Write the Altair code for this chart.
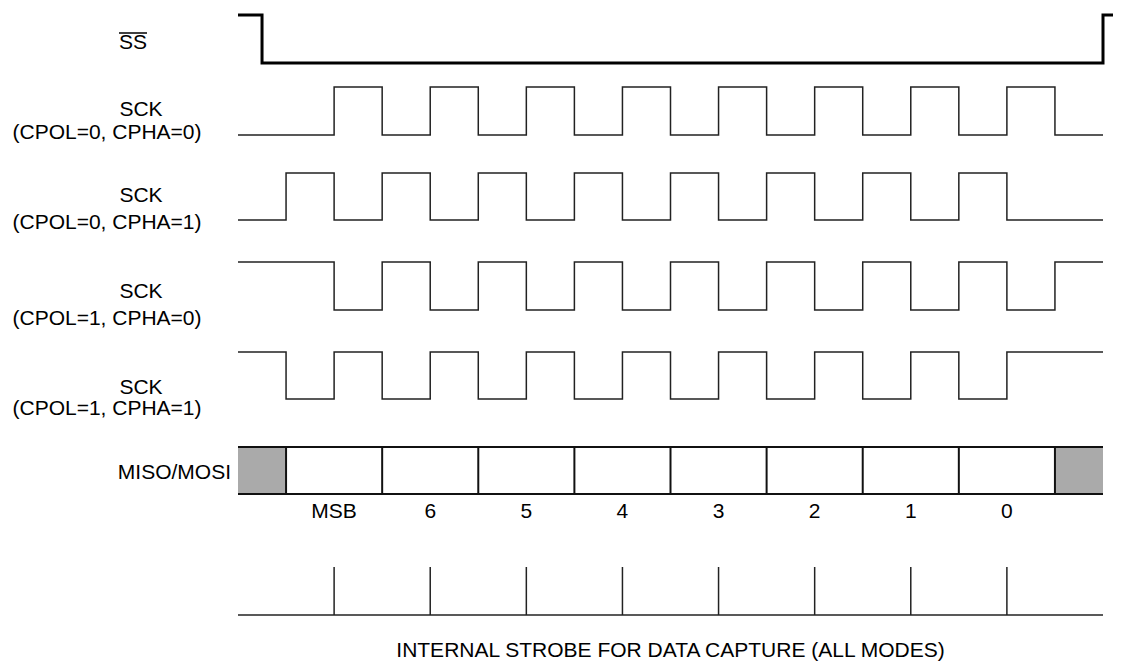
import altair as alt
import pandas as pd

# ---------------- data ----------------
# time is measured in SCK half-periods; the frame spans 18 of them
slots = list(range(18))
sck_cpol0_cpha0 = [0, 0, 1, 0, 1, 0, 1, 0, 1, 0, 1, 0, 1, 0, 1, 0, 1, 0]
sck_cpol0_cpha1 = [0, 1, 0, 1, 0, 1, 0, 1, 0, 1, 0, 1, 0, 1, 0, 1, 0, 0]
sck_cpol1_cpha0 = [1, 1, 0, 1, 0, 1, 0, 1, 0, 1, 0, 1, 0, 1, 0, 1, 0, 1]
sck_cpol1_cpha1 = [1, 0, 1, 0, 1, 0, 1, 0, 1, 0, 1, 0, 1, 0, 1, 0, 1, 1]
ss_times = [0, 0.5, 18, 18.3]
ss_levels = [1, 0, 1, 1]

bit_labels = ["MSB", "6", "5", "4", "3", "2", "1", "0"]
bit_starts = [1, 3, 5, 7, 9, 11, 13, 15]
idle_starts = [0, 17]
strobe_times = [2, 4, 6, 8, 10, 12, 14, 16]
caption = "INTERNAL STROBE FOR DATA CAPTURE (ALL MODES)"

# ---------------- layout ----------------
W, H = 1105, 656
K = 865 / 18.0           # px per half-period
X0 = 238 - 8             # pixel of t=0 inside the plot
D0 = -X0 / K
D1 = D0 + W / K

def yy(img_y):
    return img_y - 8

rows = {
    "SS": (yy(63), 48),
    "SCK00": (yy(135), 48),
    "SCK01": (yy(220), 47),
    "SCK10": (yy(310), 48),
    "SCK11": (yy(399), 47),
}

def wave(name, times, levels):
    low, amp = rows[name]
    return pd.DataFrame({"sig": name, "t": times,
                         "y": [low - lv * amp for lv in levels]})

def clock(name, levels):
    return wave(name, slots + [18], levels + [levels[-1]])

ss_df = wave("SS", ss_times, ss_levels)
sck_df = pd.concat([
    clock("SCK00", sck_cpol0_cpha0),
    clock("SCK01", sck_cpol0_cpha1),
    clock("SCK10", sck_cpol1_cpha0),
    clock("SCK11", sck_cpol1_cpha1),
])

xs = alt.Scale(domain=[D0, D1], nice=False, zero=False)
ys = alt.Scale(domain=[H, 0], nice=False, zero=False)
X = lambda f: alt.X(f, type="quantitative", scale=xs, axis=None)
Y = lambda f: alt.Y(f, type="quantitative", scale=ys, axis=None)

FONT = "Liberation Sans"
FS = 21

ss_line = alt.Chart(ss_df).mark_line(interpolate="step-after", color="#000",
                                     strokeWidth=3).encode(x=X("t"), y=Y("y"), detail="sig:N")
sck_line = alt.Chart(sck_df).mark_line(interpolate="step-after", color="#222",
                                       strokeWidth=1.5).encode(x=X("t"), y=Y("y"), detail="sig:N")

# MISO/MOSI bus
bus_top, bus_bot = yy(447), yy(494)
idle_df = pd.DataFrame({"t": idle_starts, "t2": [s + 1 for s in idle_starts],
                        "y": bus_top, "y2": bus_bot})
idle = alt.Chart(idle_df).mark_rect(color="#aaaaaa").encode(
    x=X("t"), x2="t2", y=Y("y"), y2="y2")
bus_h_df = pd.DataFrame({"t": [0, 0], "t2": [18, 18], "y": [bus_top, bus_bot]})
bus_h = alt.Chart(bus_h_df).mark_rule(color="#111", strokeWidth=2).encode(
    x=X("t"), x2="t2", y=Y("y"))
bus_v_df = pd.DataFrame({"t": bit_starts + [17], "y": bus_top, "y2": bus_bot})
bus_v = alt.Chart(bus_v_df).mark_rule(color="#111", strokeWidth=2).encode(
    x=X("t"), y=Y("y"), y2="y2")

bits_df = pd.DataFrame({"t": [s + 1 for s in bit_starts], "y": yy(512), "label": bit_labels})
bits = alt.Chart(bits_df).mark_text(font=FONT, fontSize=FS, color="#000",
                                    baseline="middle", align="center").encode(
    x=X("t"), y=Y("y"), text="label:N")

# strobe
st_base = yy(615)
strobe_base = alt.Chart(pd.DataFrame({"t": [0], "t2": [18], "y": [st_base]})).mark_rule(
    color="#222", strokeWidth=1.5).encode(x=X("t"), x2="t2", y=Y("y"))
strobe_ticks = alt.Chart(pd.DataFrame({"t": strobe_times, "y": yy(567), "y2": st_base})).mark_rule(
    color="#222", strokeWidth=1.5).encode(x=X("t"), y=Y("y"), y2="y2")

# labels
def tx(px):
    return (px - 238) / K

lab_df = pd.DataFrame({
    "label": ["SS",
              "SCK", "(CPOL=0, CPHA=0)",
              "SCK", "(CPOL=0, CPHA=1)",
              "SCK", "(CPOL=1, CPHA=0)",
              "SCK", "(CPOL=1, CPHA=1)",
              caption],
    "t": [tx(133),
          tx(141), tx(107),
          tx(141), tx(107),
          tx(141), tx(107),
          tx(141), tx(107),
          9],
    "y": [yy(43),
          yy(110), yy(133),
          yy(196), yy(223),
          yy(292), yy(319),
          yy(388), yy(409),
          yy(651)],
})
labels = alt.Chart(lab_df).mark_text(font=FONT, fontSize=FS, color="#000",
                                     baseline="middle", align="center").encode(
    x=X("t"), y=Y("y"), text="label:N")
miso_lab = alt.Chart(pd.DataFrame({"label": ["MISO/MOSI"], "t": [tx(231)], "y": [yy(473)]})).mark_text(
    font=FONT, fontSize=FS, color="#000", baseline="middle", align="right").encode(
    x=X("t"), y=Y("y"), text="label:N")
overline = alt.Chart(pd.DataFrame({"t": [tx(119)], "t2": [tx(147)], "y": [yy(33)]})).mark_rule(
    color="#000", strokeWidth=1.5).encode(x=X("t"), x2="t2", y=Y("y"))

chart = alt.layer(
    idle, bus_h, bus_v, ss_line, sck_line, strobe_base, strobe_ticks,
    bits, labels, miso_lab, overline
).properties(
    width=W, height=H, padding=0, autosize=alt.AutoSizeParams(type="none"),
    background="white"
).configure_view(stroke=None)

chart.save("out.html", embed_options={"renderer": "svg", "actions": False})
